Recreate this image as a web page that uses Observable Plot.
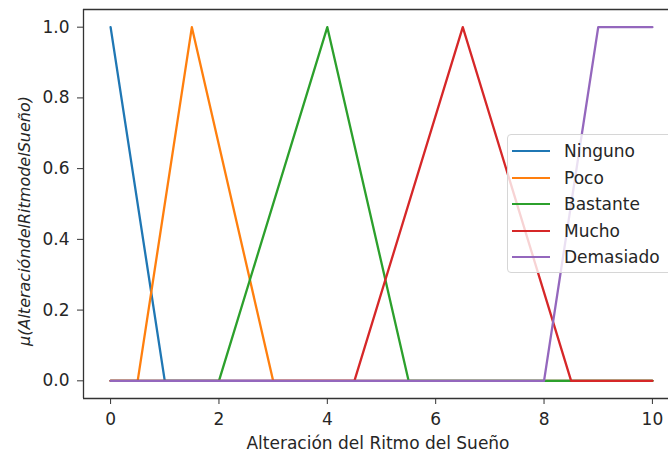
<!DOCTYPE html>
<html>
<head>
<meta charset="utf-8">
<script src="https://cdn.jsdelivr.net/npm/d3@7"></script>
<script src="https://cdn.jsdelivr.net/npm/@observablehq/plot@0.6"></script>
<style>
  body { margin: 0; background: white; }
  #wrap { position: relative; width: 668px; height: 458px; overflow: hidden; background: white; }
  #legend { position: absolute; left: 507px; top: 134px; width: 180px; height: 139px;
    border: 1px solid #d6d6d6; border-radius: 4px; background: rgba(255,255,255,0.8);
    font-family: "DejaVu Sans", sans-serif; font-size: 17px; color: #262626; box-sizing: border-box; }
  .row { position: absolute; left: 0; height: 20px; }
  .sw { position: absolute; left: 4px; width: 38px; height: 2.4px; }
  .lb { position: absolute; left: 56px; white-space: nowrap; line-height: 1; }
</style>
</head>
<body>
<div id="wrap"></div>
<script>
// Series names and colours
const seriesNames = ["Ninguno", "Poco", "Bastante", "Mucho", "Demasiado"];
const seriesColors = ["#1f77b4", "#ff7f0e", "#2ca02c", "#d62728", "#9467bd"];

// Breakpoints of each membership function (x, mu)
const ningunoX = [0, 1, 10];
const ningunoY = [1, 0, 0];
const pocoX = [0, 0.5, 1.5, 3, 10];
const pocoY = [0, 0, 1, 0, 0];
const bastanteX = [0, 2, 4, 5.5, 10];
const bastanteY = [0, 0, 1, 0, 0];
const muchoX = [0, 4.5, 6.5, 8.5, 10];
const muchoY = [0, 0, 1, 0, 0];
const demasiadoX = [0, 8, 9, 10];
const demasiadoY = [0, 0, 1, 1];

const xTicks = [0, 2, 4, 6, 8, 10];
const yTicks = [0, 0.2, 0.4, 0.6, 0.8, 1.0];
const xLabel = "Alteración del Ritmo del Sueño";
const yLabel = "μ(AlteracióndelRitmodelSueño)";

const xs = [ningunoX, pocoX, bastanteX, muchoX, demasiadoX];
const ys = [ningunoY, pocoY, bastanteY, muchoY, demasiadoY];
const data = [];
seriesNames.forEach((name, i) => {
  xs[i].forEach((x, j) => data.push({series: name, x, y: ys[i][j]}));
});

const font = "DejaVu Sans, sans-serif";
const chart = Plot.plot({
  width: 668,
  height: 458,
  marginLeft: 83,
  marginTop: 9,
  marginBottom: 60,
  marginRight: 0,
  style: {fontFamily: font, fontSize: "17px", color: "#262626", background: "white", overflow: "hidden"},
  x: {domain: [-0.5, 10.5], range: [83, 679]},
  y: {domain: [-0.05, 1.05]},
  color: {domain: seriesNames, range: seriesColors},
  marks: [
    Plot.line(data, {x: "x", y: "y", z: "series", stroke: "series", strokeWidth: 2.3}),
    Plot.ruleY([-0.05, 1.05], {stroke: "#333", strokeWidth: 1.3}),
    Plot.ruleX([-0.5], {stroke: "#333", strokeWidth: 1.3}),
    Plot.axisX({ticks: xTicks, tickSize: 6, tickPadding: 8, fontSize: 17, label: null, tickFormat: d3.format("d"), stroke: "#333"}),
    Plot.axisY({ticks: yTicks, tickSize: 6, tickPadding: 8, fontSize: 17, label: null, tickFormat: d3.format(".1f"), stroke: "#333"}),
    Plot.text([xLabel], {frameAnchor: "bottom", textAnchor: "middle", dx: 2, dy: 50, fontSize: 17, fill: "#262626"}),
    Plot.text([yLabel], {frameAnchor: "left", textAnchor: "middle", rotate: -90, dx: -59, dy: 17, fontSize: 16, fontStyle: "italic", fill: "#262626"})
  ]
});
const wrap = document.getElementById("wrap");
wrap.appendChild(chart);

const legend = document.createElement("div");
legend.id = "legend";
seriesNames.forEach((name, i) => {
  const row = document.createElement("div");
  row.className = "row";
  row.style.top = (16 + i * 26.5 - 10) + "px";
  const sw = document.createElement("div");
  sw.className = "sw";
  sw.style.background = seriesColors[i];
  sw.style.top = "9px";
  const lb = document.createElement("div");
  lb.className = "lb";
  lb.textContent = name;
  lb.style.top = "2px";
  row.appendChild(sw);
  row.appendChild(lb);
  legend.appendChild(row);
});
wrap.appendChild(legend);
</script>
</body>
</html>
